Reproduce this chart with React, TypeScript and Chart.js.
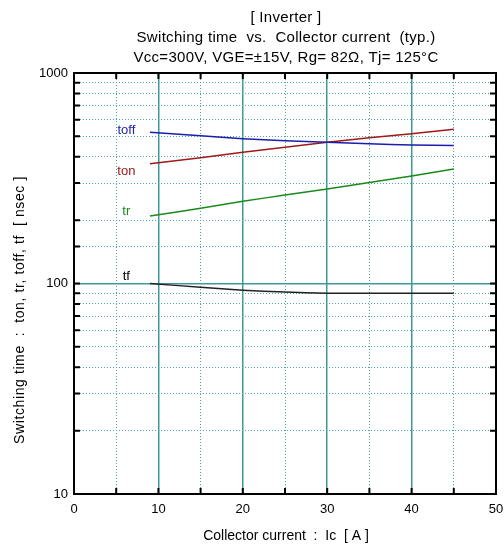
import React, { useEffect, useRef } from 'react';
import { Chart, registerables } from 'chart.js';

Chart.register(...registerables);

// ---- data ----
const currentA = [9, 15, 20, 25, 30, 35, 40, 45];
const tonNs = [371, 396, 420, 444, 469, 492, 515, 540];
const toffNs = [523, 503, 487, 477, 469, 461, 455, 452];
const trNs = [209, 228, 246, 263, 281, 302, 324, 350];
const tfNs = [100, 96, 93, 91, 90, 90, 90, 90];

const xTickLabels = [0, 10, 20, 30, 40, 50];
const yTickLabels = [10, 100, 1000];

const titleLines = [
  '[ Inverter ]',
  'Switching time  vs.  Collector current  (typ.)',
  'Vcc=300V, VGE=±15V, Rg= 82Ω, Tj= 125°C',
];
const xTitle = 'Collector current  :  Ic  [ A ]';
const yTitle = 'Switching time  :  ton, tr, toff, tf  [ nsec ]';

// series label annotations: [text, x, y(ns), color]
const seriesLabels: [string, number, number, string][] = [
  ['toff', 6.2, 532, '#1c1cb0'],
  ['ton', 6.2, 340, '#a01818'],
  ['tr', 6.2, 219, '#1a8a1a'],
  ['tf', 6.2, 108.6, '#000000'],
];

const FONT = '"Liberation Sans", Arial, sans-serif';
const GRID_SOLID = '#3e9a9a';
const GRID_DOT = '#4aa6a6';

const toPts = (ys: number[]) => currentA.map((x, i) => ({ x, y: ys[i] }));

const overlayPlugin = {
  id: 'overlay',
  afterDraw(chart: any) {
    const { ctx, chartArea: a, scales } = chart;
    const xs = scales.x;
    const ys = scales.y;
    ctx.save();
    // tick marks inward
    ctx.strokeStyle = '#000';
    ctx.lineWidth = 2;
    ctx.beginPath();
    ys.ticks.forEach((t: any) => {
      const py = ys.getPixelForValue(t.value);
      ctx.moveTo(a.left, py);
      ctx.lineTo(a.left + 6, py);
      ctx.moveTo(a.right, py);
      ctx.lineTo(a.right - 6, py);
    });
    xs.ticks.forEach((t: any) => {
      const px = xs.getPixelForValue(t.value);
      ctx.moveTo(px, a.bottom);
      ctx.lineTo(px, a.bottom - 6);
      ctx.moveTo(px, a.top);
      ctx.lineTo(px, a.top + 6);
    });
    ctx.stroke();
    // frame
    ctx.lineWidth = 2;
    ctx.strokeRect(a.left, a.top, a.right - a.left, a.bottom - a.top);

    // titles
    ctx.fillStyle = '#000';
    ctx.textAlign = 'center';
    ctx.textBaseline = 'middle';
    const cx = (a.left + a.right) / 2;
    ctx.font = `15px ${FONT}`;
    (ctx as any).letterSpacing = '0.3px';
    titleLines.forEach((line, i) => {
      ctx.fillText(line, cx + 1, 18 + i * 20);
    });
    (ctx as any).letterSpacing = '0px';
    ctx.font = `14px ${FONT}`;
    ctx.fillText(xTitle, cx + 1, 536);
    ctx.save();
    ctx.translate(20, 310);
    ctx.rotate(-Math.PI / 2);
    (ctx as any).letterSpacing = '0.6px';
    ctx.fillText(yTitle, 0, 0);
    (ctx as any).letterSpacing = '0px';
    ctx.restore();

    // series labels
    ctx.font = `13px ${FONT}`;
    seriesLabels.forEach(([txt, x, y, col]) => {
      ctx.fillStyle = col;
      ctx.fillText(txt, xs.getPixelForValue(x), ys.getPixelForValue(y));
    });
    ctx.restore();
  },
};

export default function App() {
  const ref = useRef<HTMLCanvasElement>(null);
  useEffect(() => {
    if (!ref.current) return;
    const mk = (label: string, data: number[], color: string) => ({
      label,
      data: toPts(data),
      borderColor: color,
      backgroundColor: color,
      borderWidth: 1.5,
      pointRadius: 0,
      tension: 0.2,
    });
    const chart = new Chart(ref.current, {
      type: 'line',
      data: {
        datasets: [
          mk('toff', toffNs, '#1c1cb0'),
          mk('ton', tonNs, '#a01818'),
          mk('tr', trNs, '#1a8a1a'),
          mk('tf', tfNs, '#222222'),
        ],
      },
      options: {
        animation: false,
        responsive: false,
        devicePixelRatio: 1,
        layout: { padding: { top: 73, right: 8, left: 0, bottom: 0 } },
        plugins: { legend: { display: false }, title: { display: false }, tooltip: { enabled: false } },
        scales: {
          x: {
            type: 'linear',
            min: 0,
            max: 50,
            afterFit: (s: any) => {
              s.height = 50;
              s.paddingLeft = 0;
              s.paddingRight = 0;
            },
            ticks: {
              stepSize: 5,
              autoSkip: false,
              maxRotation: 0,
              padding: 8,
              color: '#000',
              font: { family: FONT, size: 13 },
              callback: (v: any) => (xTickLabels.includes(Number(v)) ? String(v) : ''),
            },
            grid: {
              drawTicks: false,
              color: (c: any) => (c.tick && c.tick.value % 10 === 0 ? GRID_SOLID : GRID_DOT),
              lineWidth: (c: any) => (c.tick && c.tick.value % 10 === 0 ? 1.5 : 1),
            },
            border: {
              display: false,
              dash: (c: any) => (c.tick && c.tick.value % 10 !== 0 ? [1, 2] : []),
            },
          },
          y: {
            type: 'logarithmic',
            min: 10,
            max: 1000,
            afterFit: (s: any) => {
              s.width = 74;
              s.paddingTop = 0;
              s.paddingBottom = 0;
            },
            ticks: {
              autoSkip: false,
              padding: 6,
              color: '#000',
              font: { family: FONT, size: 13 },
              callback: (v: any) => (yTickLabels.includes(Number(v)) ? String(v) : ''),
            },
            grid: {
              drawTicks: false,
              color: (c: any) => (c.tick && yTickLabels.includes(c.tick.value) ? GRID_SOLID : GRID_DOT),
              lineWidth: (c: any) => (c.tick && yTickLabels.includes(c.tick.value) ? 1.5 : 1),
            },
            border: {
              display: false,
              dash: (c: any) => (c.tick && !yTickLabels.includes(c.tick.value) ? [1, 2] : []),
            },
          },
        },
      },
      plugins: [overlayPlugin],
    } as any);
    return () => chart.destroy();
  }, []);
  return (
    <div style={{ position: 'absolute', left: 0, top: 0, width: 504, height: 544, background: '#fff' }}>
      <canvas ref={ref} width={504} height={544} />
    </div>
  );
}
